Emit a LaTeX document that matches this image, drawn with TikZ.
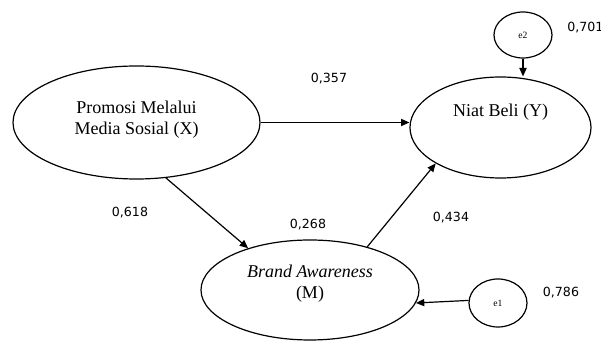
\documentclass[tikz,border=0pt]{standalone}
\usepackage{fontspec}
\setmainfont{Liberation Serif}
\newfontfamily\coeffont{DejaVu Sans}
\usetikzlibrary{shapes.geometric,arrows.meta}

\tikzset{
  latent/.style={draw,ellipse,inner sep=0pt,line width=0.6pt},
  inlabel/.style={align=center,font=\fontsize{9}{10.5}\selectfont},
  errvar/.style={draw,ellipse,inner sep=0pt,line width=0.6pt,font=\fontsize{4.8}{5}\selectfont},
  coef/.style={inner sep=0pt,font=\coeffont\fontsize{6.3}{7}\selectfont},
  path/.style={line width=0.6pt,-{Triangle[length=4.2pt,width=3.6pt]}}
}

\begin{document}
\begin{tikzpicture}[x=0.5pt,y=-0.5pt]
\useasboundingbox (0,0) rectangle (601,341);
% latent variables
\node[latent,minimum width=123.5pt,minimum height=56.5pt,
  label={[inlabel,yshift=1.5pt]center:Promosi Melalui\\Media Sosial (X)}] (X) at (136.5,122.5) {};
\node[latent,minimum width=90.5pt,minimum height=50.5pt,
  label={[inlabel,yshift=7.5pt]center:Niat Beli (Y)}] (Y) at (500.5,127.5) {};
\node[latent,minimum width=109pt,minimum height=50pt,
  label={[inlabel,yshift=3pt]center:\textit{Brand Awareness}\\(M)}] (M) at (310,290) {};
% error terms
\node[errvar,minimum width=29pt,minimum height=23pt] (e2) at (523,35) {e2};
\node[errvar,minimum width=29pt,minimum height=24pt] (e1) at (498,303) {e1};
% paths
\draw[path] (X.east) -- (X.east -| Y.west);
\draw[path] (X.-62.8) -- (M.146.7);
\draw[path] (M.37) -- (Y.209.7);
\draw[path] (e2.south) -- (e2.south |- Y.north);
\draw[path] (e1.175) -- (M.-7);
% coefficients
\node[coef] (cXY) at (329,79) {0,357};
\node[coef] (cXM) at (130,213) {0,618};
\node[coef] (rM) at (308,225) {0,268};
\node[coef] (cMY) at (451,218) {0,434};
\node[coef] (ve1) at (561,293) {0,786};
\node[coef,anchor=west] (ve2) at (567,28) {0,701};
\end{tikzpicture}
\end{document}
